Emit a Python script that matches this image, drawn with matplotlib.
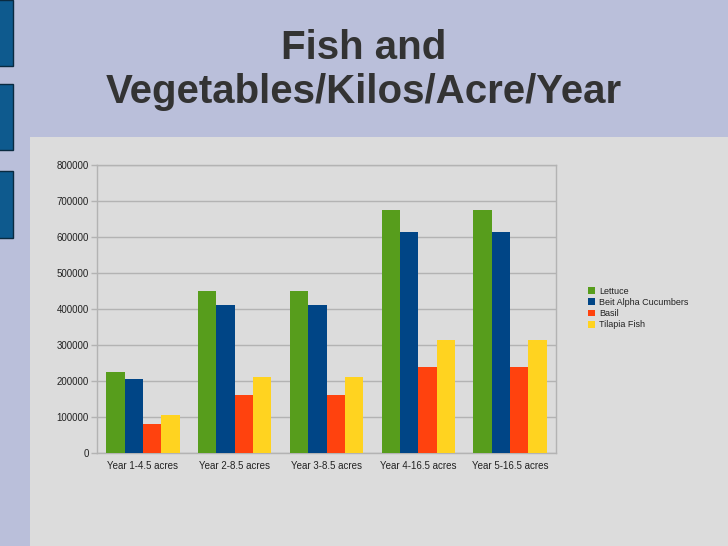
import matplotlib
matplotlib.use("Agg")
import matplotlib.pyplot as plt
from matplotlib.patches import Rectangle
import numpy as np

plt.rcParams['font.family'] = ['Liberation Sans', 'DejaVu Sans']

categories = ["Year 1-4.5 acres", "Year 2-8.5 acres", "Year 3-8.5 acres",
              "Year 4-16.5 acres", "Year 5-16.5 acres"]
lettuce = [225000, 450000, 450000, 675000, 675000]
cucumbers = [205000, 410000, 410000, 615000, 615000]
basil = [80000, 160000, 160000, 240000, 240000]
tilapia = [105000, 210000, 210000, 315000, 315000]
series_names = ["Lettuce", "Beit Alpha Cucumbers", "Basil", "Tilapia Fish"]
series_values = [lettuce, cucumbers, basil, tilapia]
colors = ["#579d1c", "#004586", "#ff420e", "#ffd320"]
yticks = [0, 100000, 200000, 300000, 400000, 500000, 600000, 700000, 800000]

W, H = 728, 546
fig = plt.figure(figsize=(W / 100, H / 100), dpi=100)
fig.patch.set_facecolor("#babfda")

# chart area background
fig.patches.append(Rectangle((30 / W, 0), (W - 30) / W, (H - 137) / H,
                             transform=fig.transFigure, facecolor="#dcdcdc",
                             edgecolor="none", zorder=-2))
# slide decorations at left
for y0, y1 in [(0, 66), (84, 150), (171, 238)]:
    fig.patches.append(Rectangle((-2 / W, 1 - y1 / H), 15 / W, (y1 - y0) / H,
                                 transform=fig.transFigure, facecolor="#0e5a8e",
                                 edgecolor="#0a2a40", linewidth=1, zorder=-1))

fig.text(364 / W, 1 - 48 / H, "Fish and", ha="center", va="center",
         fontsize=29, fontweight="bold", color="#333333")
fig.text(364 / W, 1 - 92 / H, "Vegetables/Kilos/Acre/Year", ha="center", va="center",
         fontsize=29, fontweight="bold", color="#333333")

ax = fig.add_axes([97 / W, (H - 453) / H, (556 - 97) / W, 288 / H])
ax.set_zorder(2)
ax.set_facecolor("#dcdcdc")
x = np.arange(len(categories))
bw = 0.2
for i, (name, vals, c) in enumerate(zip(series_names, series_values, colors)):
    ax.bar(x - 0.3 + i * bw, vals, width=bw, color=c, label=name, zorder=3)

ax.set_xlim(-0.5, len(categories) - 0.5)
ax.set_ylim(0, 800000)
ax.set_yticks(yticks)
ax.set_yticklabels([str(v) for v in yticks])
ax.set_xticks(x)
ax.set_xticklabels(categories)
ax.yaxis.grid(True, color="#b3b3b3", linewidth=1, zorder=0)
for s in ax.spines.values():
    s.set_color("#b3b3b3")
    s.set_linewidth(1)
ax.tick_params(axis="both", labelsize=7, colors="#b3b3b3", labelcolor="#222222",
               length=4, width=1)
ax.tick_params(axis="x", length=0, pad=6)
ax.tick_params(axis="y", pad=2)

leg = fig.legend(loc="upper left", bbox_to_anchor=(584 / W, 1 - 283 / H),
                 fontsize=6.5, frameon=False, handlelength=0.8, handleheight=0.8,
                 handletextpad=0.5, labelspacing=0.25, borderaxespad=0)
leg.set_zorder(3)
for t in leg.get_texts():
    t.set_color("#222222")

fig.savefig("out.png", dpi=100, facecolor=fig.get_facecolor())
